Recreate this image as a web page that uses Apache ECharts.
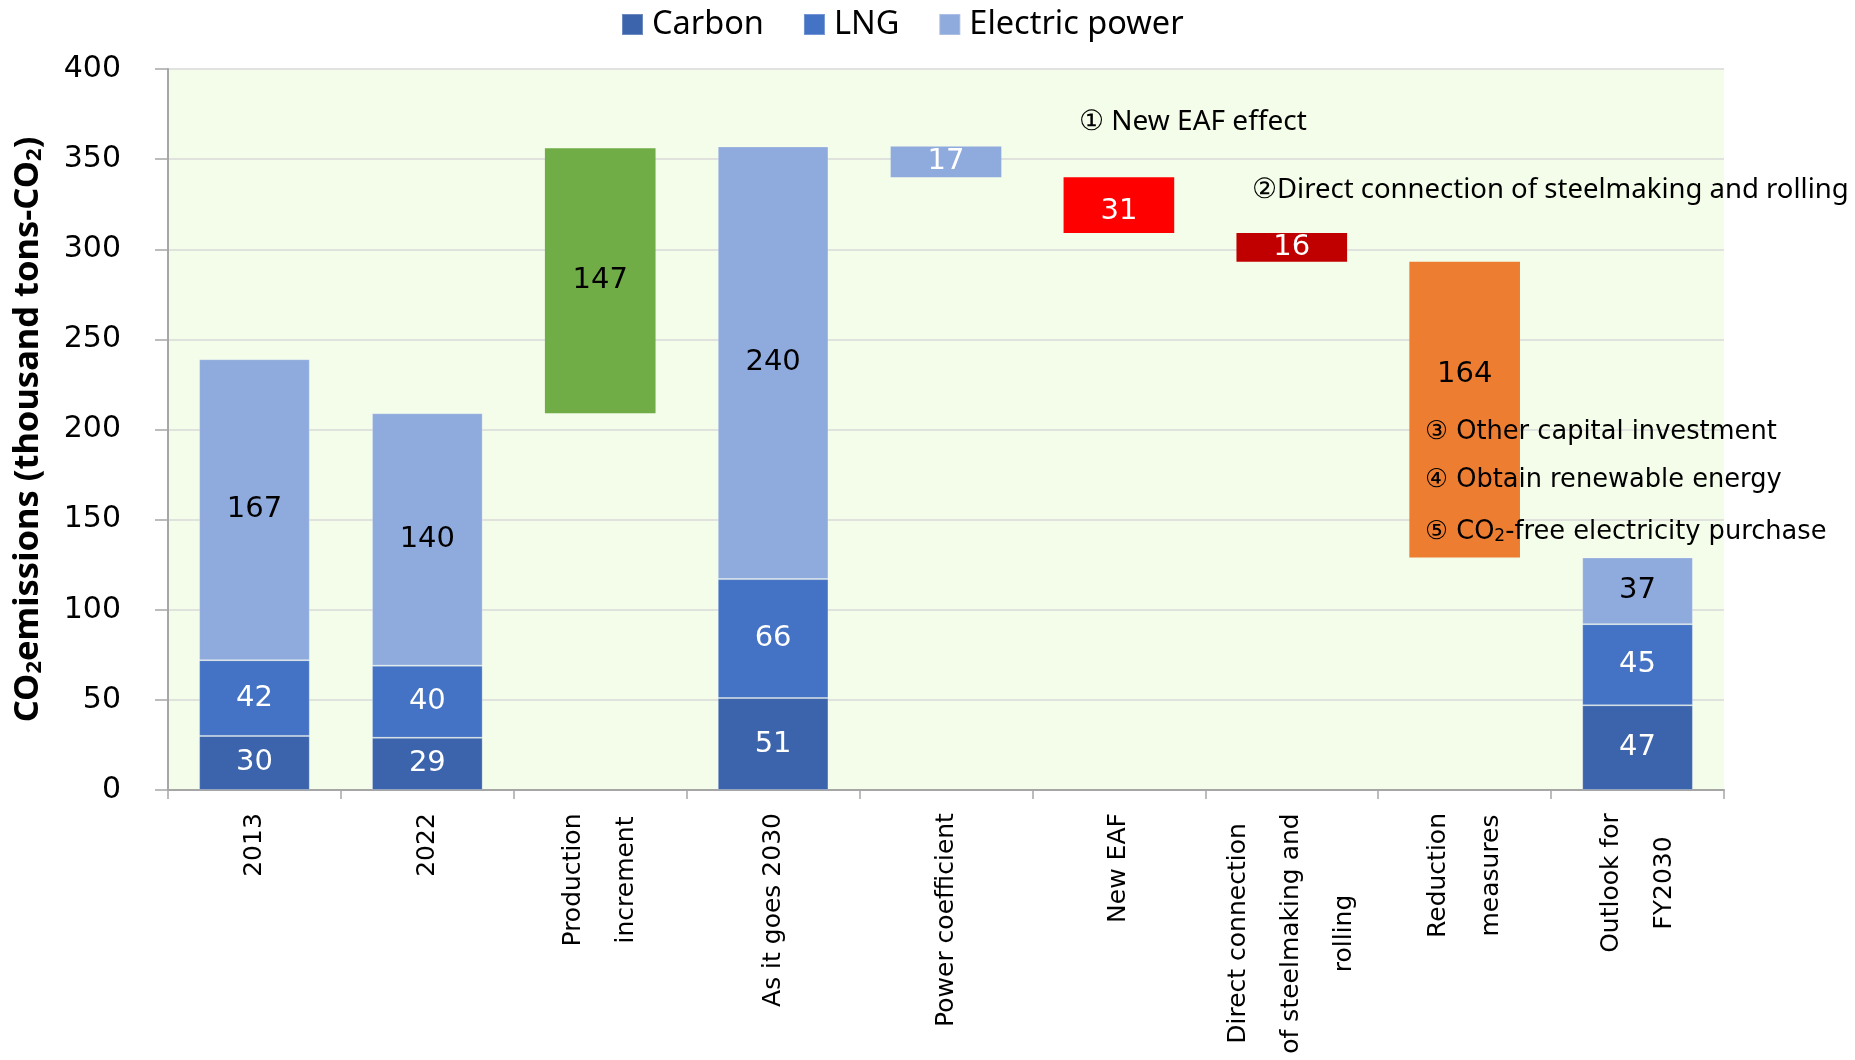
<!DOCTYPE html>
<html>
<head>
<meta charset="utf-8">
<script src="https://cdn.jsdelivr.net/npm/echarts@6/dist/echarts.min.js"></script>
<style>
  html, body { margin: 0; padding: 0; background: #fff; }
  #chart { width: 1855px; height: 1060px; }
</style>
</head>
<body>
<div id="chart"></div>
<script>
// categories on the x axis
const categories = [
  '2013',
  '2022',
  'Production\nincrement',
  'As it goes 2030',
  'Power coefficient',
  'New EAF',
  'Direct connection\nof steelmaking and\nrolling',
  'Reduction\nmeasures',
  'Outlook for\nFY2030'
];

// stacked composition bars (thousand tons-CO2)
const carbon   = [30, 29, null, 51, null, null, null, null, 47];
const lng      = [42, 40, null, 66, null, null, null, null, 45];
const electric = [167, 140, null, 240, null, null, null, null, 37];

// waterfall steps (+ increase, - decrease)
const changes = [null, null, 147, null, -17, -31, -16, -164, null];
const changeColors = [null, null, '#70AD47', null, '#8FAADC', '#FF0000', '#C00000', '#ED7D31', null];
const changeLabelColors = [null, null, '#000', null, '#fff', '#fff', '#fff', '#000', null];

const yTicks = { min: 0, max: 400, interval: 50 };

// floating base for the step bars, from the running total
const base = [];
let running = 0;
categories.forEach((c, i) => {
  if (changes[i] == null) {
    running = (carbon[i] || 0) + (lng[i] || 0) + (electric[i] || 0);
    base.push('-');
  } else if (changes[i] > 0) {
    base.push(running);
    running += changes[i];
  } else {
    running += changes[i];
    base.push(running);
  }
});

// measure category label lines so every line is centred in its block
const mctx = document.createElement('canvas').getContext('2d');
const catFont = 25;
mctx.font = catFont + 'px "DejaVu Sans"';
const catRich = {};
categories.forEach((c, i) => {
  const w = Math.max(...c.split('\n').map(l => mctx.measureText(l).width));
  catRich['c' + i] = {
    width: Math.ceil(w) + 2, align: 'center',
    fontSize: catFont, fontFamily: 'DejaVu Sans', color: '#000', lineHeight: 53
  };
});

const chart = echarts.init(document.getElementById('chart'));

const numLabel = (color) => ({
  show: true,
  position: 'inside',
  color: color,
  fontSize: 29,
  fontFamily: 'DejaVu Sans',
  formatter: p => Math.abs(p.value)
});

// subscript styles for rich text
const subRich = (size, subSize, weight) => ({
  a: { fontSize: size, fontWeight: weight, fontFamily: weight === 'bold' ? 'Noto Sans' : 'DejaVu Sans', color: '#000', lineHeight: 40, verticalAlign: 'bottom' },
  s: { fontSize: subSize, fontWeight: weight, fontFamily: weight === 'bold' ? 'Noto Sans' : 'DejaVu Sans', color: '#000', lineHeight: 16, verticalAlign: 'bottom' }
});

const option = {
  animation: false,
  backgroundColor: '#fff',
  legend: {
    data: ['Carbon', 'LNG', 'Electric power'],
    left: 616, top: 3,
    icon: 'rect',
    itemWidth: 21, itemHeight: 21, itemGap: 39,
    textStyle: { fontSize: 32.5, fontFamily: 'Noto Sans', color: '#000', padding: [0, 0, 0, 4] }
  },
  grid: {
    left: 168, right: 131, top: 69, bottom: 270,
    show: true, backgroundColor: '#F4FDEA', borderWidth: 0
  },
  xAxis: {
    type: 'category',
    data: categories,
    axisLine: { lineStyle: { color: '#a6a6a6', width: 2 } },
    axisTick: { show: true, length: 9, lineStyle: { color: '#a6a6a6', width: 1.5 } },
    axisLabel: {
      rotate: 90,
      margin: 22,
      interval: 0,
      formatter: (v, i) => v.split('\n').map(l => '{c' + i + '|' + l + '}').join('\n'),
      rich: catRich
    }
  },
  yAxis: {
    type: 'value',
    min: yTicks.min, max: yTicks.max, interval: yTicks.interval,
    name: '{a|CO}{s|2}{a|emissions (thousand tons-CO}{s|2}{a|)}',
    nameLocation: 'middle',
    nameGap: 122,
    nameRotate: 90,
    nameTextStyle: { rich: subRich(34.5, 22, 'bold') },
    axisLine: { show: true, lineStyle: { color: '#a6a6a6', width: 2 } },
    axisTick: { show: true, length: 13, lineStyle: { color: '#a6a6a6', width: 1.5 } },
    axisLabel: { margin: 47, fontSize: 30, fontFamily: 'DejaVu Sans', color: '#000' },
    splitLine: { lineStyle: { color: '#d9d9d9', width: 1.5 } }
  },
  series: [
    {
      name: 'base', type: 'bar', stack: 'total', barWidth: '64%', silent: true,
      itemStyle: { color: 'transparent' },
      data: base
    },
    {
      name: 'Carbon', type: 'bar', stack: 'total',
      itemStyle: { color: '#3C64AC', borderColor: 'rgba(255,255,255,0.25)', borderWidth: 1 },
      label: numLabel('#fff'),
      data: carbon.map(v => v == null ? '-' : v)
    },
    {
      name: 'LNG', type: 'bar', stack: 'total',
      itemStyle: { color: '#4472C4', borderColor: 'rgba(255,255,255,0.25)', borderWidth: 1 },
      label: numLabel('#fff'),
      data: lng.map(v => v == null ? '-' : v)
    },
    {
      name: 'Electric power', type: 'bar', stack: 'total',
      itemStyle: { color: '#8FAADC', borderColor: 'rgba(255,255,255,0.25)', borderWidth: 1 },
      label: numLabel('#000'),
      data: electric.map(v => v == null ? '-' : v)
    },
    {
      name: 'change', type: 'bar', stack: 'total',
      label: numLabel('#000'),
      data: changes.map((v, i) => v == null ? '-' : {
        value: Math.abs(v),
        itemStyle: { color: changeColors[i] },
        label: i === 7
          ? { color: changeLabelColors[i], position: ['50%', '38%'], align: 'center', verticalAlign: 'middle' }
          : { color: changeLabelColors[i], offset: i === 5 ? [0, 6] : [0, 0] }
      })
    }
  ],
  graphic: [
    { type: 'text', z: 100, x: 1079, y: 122, style: { text: '① New EAF effect', fontSize: 28, fontFamily: 'Noto Sans', fill: '#000', verticalAlign: 'middle' } },
    { type: 'text', z: 100, x: 1252, y: 190, style: { text: '②Direct connection of steelmaking and rolling', fontSize: 27.5, fontFamily: 'Noto Sans', fill: '#000', verticalAlign: 'middle' } },
    { type: 'text', z: 100, x: 1425, y: 432, style: { text: '③ Other capital investment', fontSize: 25.7, fontFamily: 'DejaVu Sans', fill: '#000', verticalAlign: 'middle' } },
    { type: 'text', z: 100, x: 1425, y: 480, style: { text: '④ Obtain renewable energy', fontSize: 25.7, fontFamily: 'DejaVu Sans', fill: '#000', verticalAlign: 'middle' } },
    {
      type: 'text', z: 100, x: 1425, y: 525,
      style: {
        text: '{a|⑤ CO}{s|2}{a|-free electricity purchase}',
        verticalAlign: 'middle',
        rich: subRich(25.7, 17, 'normal')
      }
    }
  ]
};

chart.setOption(option);
</script>
</body>
</html>
